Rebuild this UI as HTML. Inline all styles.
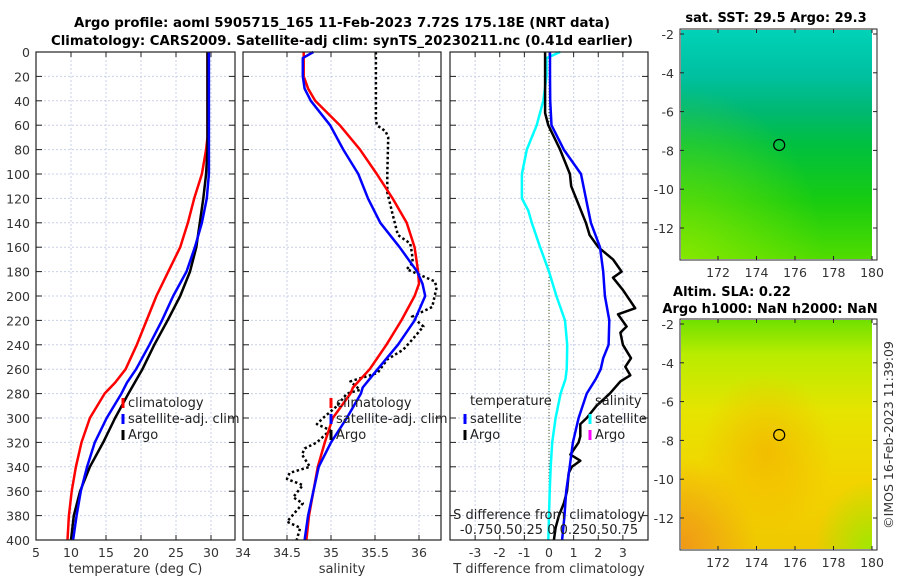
<!DOCTYPE html>
<html><head><meta charset="utf-8">
<style>
html,body{margin:0;padding:0;background:#fff;}
svg{display:block;font-family:"DejaVu Sans","Liberation Sans",sans-serif;}
.t{font-size:12.5px;fill:#333;}
.b{font-size:13px;font-weight:bold;fill:#000;}
</style></head>
<body>
<svg id="c" width="900" height="580" viewBox="0 0 900 580">
<defs>
<linearGradient id="sst" x1="0" y1="0" x2="0" y2="1">
<stop offset="0" stop-color="#00d2b8"/><stop offset="0.2" stop-color="#00c0a0"/>
<stop offset="0.36" stop-color="#00b870"/><stop offset="0.5" stop-color="#00c040"/>
<stop offset="0.75" stop-color="#18cc10"/><stop offset="1" stop-color="#50dc00"/>
</linearGradient>
<radialGradient id="sstside" cx="0" cy="1" r="0.75">
<stop offset="0" stop-color="#a8f000" stop-opacity="0.6"/><stop offset="1" stop-color="#a8f000" stop-opacity="0"/>
</radialGradient>
<linearGradient id="sla" x1="0" y1="0" x2="0" y2="1">
<stop offset="0" stop-color="#70e000"/><stop offset="0.15" stop-color="#b8ec00"/>
<stop offset="0.4" stop-color="#e6e400"/><stop offset="0.7" stop-color="#f2d400"/><stop offset="1" stop-color="#f0c800"/>
</linearGradient>
<radialGradient id="slaspot" cx="0.45" cy="0.58" r="0.35">
<stop offset="0" stop-color="#f4b000" stop-opacity="0.7"/><stop offset="1" stop-color="#f4b000" stop-opacity="0"/>
</radialGradient>
<radialGradient id="slacorner" cx="0" cy="1" r="0.4">
<stop offset="0" stop-color="#f09818"/><stop offset="1" stop-color="#f09818" stop-opacity="0"/>
</radialGradient>
<radialGradient id="slagreen" cx="1" cy="1" r="0.3">
<stop offset="0" stop-color="#a0e800"/><stop offset="1" stop-color="#a0e800" stop-opacity="0"/>
</radialGradient>
</defs>
<text class="b" x="342" y="27" text-anchor="middle" textLength="536" lengthAdjust="spacingAndGlyphs">Argo profile: aoml 5905715_165 11-Feb-2023 7.72S 175.18E (NRT data)</text>
<text class="b" x="342" y="45" text-anchor="middle" textLength="582" lengthAdjust="spacingAndGlyphs">Climatology: CARS2009. Satellite-adj clim: synTS_20230211.nc (0.41d earlier)</text>
<g id="panels"></g>
<g id="maps"></g>
<text class="t" transform="translate(893,435) rotate(-90)" text-anchor="middle">©IMOS 16-Feb-2023 11:39:09</text>
</svg>
<script>
const tDepth = [0,20,40,60,70,80,100,120,140,160,180,200,220,240,260,271,280,300,320,340,360,380,400];
const tClim  = [29.5,29.5,29.5,29.5,29.5,29.3,28.7,27.6,26.7,25.6,23.9,22.2,20.8,19.4,17.8,16.3,14.8,12.7,11.5,10.7,10.1,9.7,9.5];
const tSat   = [29.7,29.7,29.7,29.7,29.7,29.7,29.7,29.4,28.7,27.7,26.5,24.6,23.0,21.2,19.3,18.0,17.2,15.1,13.4,12.3,11.4,10.8,10.3];
const tArgo  = [29.5,29.5,29.5,29.5,29.5,29.5,29.3,28.9,28.4,27.9,27.0,25.6,23.8,21.9,20.2,19.1,18.2,16.3,14.6,12.7,11.3,10.4,10.0];

const sDepth = [0,5,20,30,40,60,80,100,120,140,160,180,190,200,220,240,260,275,280,300,320,340,360,380,400];
const sClim  = [34.69,34.69,34.69,34.74,34.82,35.10,35.33,35.52,35.70,35.86,35.95,35.99,36.0,35.95,35.80,35.63,35.44,35.25,35.22,35.02,34.93,34.85,34.80,34.75,34.72];
const sSat   = [34.80,34.68,34.68,34.70,34.77,34.99,35.14,35.31,35.42,35.56,35.78,35.98,36.04,36.07,35.95,35.76,35.53,35.36,35.34,35.18,35.00,34.86,34.80,34.74,34.70];
const sArgoDepth = [0,55,60,65,70,100,115,133,150,157,165,173,178,188,193,209,217,225,236,244,252,263,270,277,280,290,300,305,310,320,325,330,340,345,350,355,365,370,385,390,400];
const sArgo      = [35.51,35.51,35.52,35.62,35.65,35.64,35.64,35.70,35.76,35.90,35.92,35.93,35.86,36.18,36.20,36.15,35.92,36.05,35.92,35.82,35.64,35.53,35.22,35.33,35.18,35.07,34.91,34.84,34.99,34.84,34.70,34.67,34.76,34.53,34.50,34.68,34.57,34.68,34.50,34.65,34.61];

const dDepth   = [0,5,20,40,60,80,100,120,130,140,160,180,200,220,240,251,260,268,280,300,320,340,360,380,400];
const dTsat    = [0.04,0.04,0.04,0.05,0.1,0.6,1.3,1.5,1.6,1.7,2.07,2.2,2.27,2.45,2.42,2.2,2.1,1.9,1.53,1.2,0.97,0.84,0.7,0.63,0.53];
const dSsatT   = [0.45,-0.1,-0.1,-0.23,-0.5,-0.9,-1.1,-1.1,-0.84,-0.7,-0.36,0.0,0.3,0.65,0.74,0.73,0.72,0.67,0.47,0.27,0.13,0.07,0.03,0.0,-0.03];
const dTArgoDepth = [0,50,60,80,100,110,120,140,150,160,170,180,185,195,210,215,225,230,240,251,258,265,270,280,290,300,305,315,320,330,335,340,345,350,360,370,380,390,400];
const dTArgo      = [-0.16,-0.16,-0.03,0.45,0.85,0.9,1.1,1.5,1.65,2.0,2.6,2.95,2.6,3.0,3.5,2.8,3.15,2.9,3.0,3.33,3.1,3.3,2.9,2.47,1.93,1.53,1.27,1.27,1.2,0.87,1.27,0.93,0.8,0.78,0.73,0.6,0.4,0.27,0.2];

const yTicks = [0,20,40,60,80,100,120,140,160,180,200,220,240,260,280,300,320,340,360,380,400];
const p1Ticks = [5,10,15,20,25,30];
const p2Ticks = [34,34.5,35,35.5,36];
const p3Ticks = [-3,-2,-1,0,1,2,3];
const lonTicks = [172,174,176,178,180];
const latTicks = [-2,-4,-6,-8,-10,-12];
const argoLon = 175.18, argoLat = -7.72;

const NS='http://www.w3.org/2000/svg';
function mk(tag, attrs, parent){const e=document.createElementNS(NS,tag);for(const k in attrs)e.setAttribute(k,attrs[k]);if(parent)parent.appendChild(e);return e;}
const yTop=52, yBot=540;
const yS = d => yTop + (d/400)*(yBot-yTop);
const P = document.getElementById('panels');

function panel(name, x0, x1, vmin, vmax, ticks, label){
  const g = mk('g',{},P);
  
  
  const xs = v => x0 + (v-vmin)/(vmax-vmin)*(x1-x0);
  ticks.forEach(t=>{
    const gl = mk('line',{x1:xs(t),x2:xs(t),y1:yTop,y2:yBot,stroke:'#c8d0e8','stroke-width':1,'stroke-dasharray':'2,2'},g);
    
    
    const tl = mk('text',{x:xs(t),y:yBot+17,'text-anchor':'middle',class:'t'},g);
    tl.textContent=String(t);
    
    
    mk('line',{x1:xs(t),x2:xs(t),y1:yBot,y2:yBot-5,stroke:'#222'},g);
    mk('line',{x1:xs(t),x2:xs(t),y1:yTop,y2:yTop+5,stroke:'#222'},g);
  });
  yTicks.forEach(d=>{
    mk('line',{x1:x0,x2:x1,y1:yS(d),y2:yS(d),stroke:'#c8d0e8','stroke-width':1,'stroke-dasharray':'2,2'},g);
    mk('line',{x1:x0,x2:x0+6,y1:yS(d),y2:yS(d),stroke:'#222'},g);
    mk('line',{x1:x1,x2:x1-6,y1:yS(d),y2:yS(d),stroke:'#222'},g);
  });
  const xl = mk('text',{x:(x0+x1)/2,y:yBot+33,'text-anchor':'middle',class:'t',style:'font-size:13px'},g);
  xl.textContent=label;
  
  
  return {g, xs};
}
function line(p, name, depths, vals, color, w, dash){
  const pts = depths.map((d,i)=>p.xs(vals[i]).toFixed(1)+','+yS(d).toFixed(1)).join(' ');
  const a = {points:pts,fill:'none',stroke:color,'stroke-width':w,'stroke-linejoin':'round'};
  if(dash) a['stroke-dasharray']=dash;
  const e = mk('polyline',a,p.g);
  
  
}
function frame(p,x0,x1){
  const r = mk('rect',{x:x0,y:yTop,width:x1-x0,height:yBot-yTop,fill:'none',stroke:'#222','stroke-width':1.2},p.g);
  
  
}
function legendItem(g, x, y, color, text, name){
  mk('rect',{x:x-1.5,y:y-8,width:3,height:10,fill:color},g);
  const t = mk('text',{x:x+5,y:y+1,class:'t',style:'font-size:13px;fill:#222'},g);
  t.textContent=text;
  
  
}

yTicks.forEach(d=>{
  const t = mk('text',{x:30,y:yS(d)+5,'text-anchor':'end',class:'t'},P);
  t.textContent=String(d);
  
  
});

const p1 = panel('temperature-panel',36,235,5,33.43,p1Ticks,'temperature (deg C)');
line(p1,'temp-climatology-line',tDepth,tClim,'#ff0000',2.5);
line(p1,'temp-argo-line',tDepth,tArgo,'#000',2.5);
line(p1,'temp-satellite-line',tDepth,tSat,'#0000ff',2.5);
frame(p1,36,235);
const lg1 = mk('g',{},p1.g);


legendItem(lg1,123,406,'#ff0000','climatology','legend-climatology');
legendItem(lg1,123,422,'#0000ff','satellite-adj. clim','legend-satellite-adj');
legendItem(lg1,123,438,'#000','Argo','legend-argo');

const p2 = panel('salinity-panel',243,441,34,36.25,p2Ticks,'salinity');
line(p2,'sal-argo-line',sArgoDepth,sArgo,'#000',2.5,'2.5,2.5');
line(p2,'sal-climatology-line',sDepth,sClim,'#ff0000',2.5);
line(p2,'sal-satellite-line',sDepth,sSat,'#0000ff',2.5);
frame(p2,243,441);
const lg2 = mk('g',{},p2.g);


legendItem(lg2,331,406,'#ff0000','climatology','legend-climatology');
legendItem(lg2,331,422,'#0000ff','satellite-adj. clim','legend-satellite-adj');
legendItem(lg2,331,438,'#000','Argo','legend-argo');

const p3 = panel('difference-panel',450,648,-4.02,4.02,p3Ticks,'T difference from climatology');
mk('line',{x1:p3.xs(0),x2:p3.xs(0),y1:yTop,y2:yBot,stroke:'#445522','stroke-width':1,'stroke-dasharray':'1,2'},p3.g);
line(p3,'sal-diff-satellite-line',dDepth,dSsatT,'#00ffff',2.5);
line(p3,'temp-diff-argo-line',dTArgoDepth,dTArgo,'#000',2.5);
line(p3,'temp-diff-satellite-line',dDepth,dTsat,'#0000ff',2.5);
frame(p3,450,648);
const lg3 = mk('g',{},p3.g);


const tt = mk('text',{x:470,y:405,class:'t',style:'font-size:13px;fill:#222'},lg3); tt.textContent='temperature';
const st = mk('text',{x:595,y:405,class:'t',style:'font-size:13px;fill:#222'},lg3); st.textContent='salinity';
legendItem(lg3,465,422,'#0000ff','satellite','legend-temp-satellite');
legendItem(lg3,465,438,'#000','Argo','legend-temp-argo');
legendItem(lg3,590,422,'#00ffff','satellite','legend-sal-satellite');
legendItem(lg3,590,438,'#ff00ff','Argo','legend-sal-argo');
const sd = mk('text',{x:549,y:519,'text-anchor':'middle',class:'t',style:'font-size:13px;fill:#222'},p3.g);
sd.textContent='S difference from climatology';


const sn = mk('text',{x:549,y:534,'text-anchor':'middle',class:'t',style:'font-size:13px;fill:#222'},p3.g);
sn.textContent='-0.750.50.25 0 0.250.50.75';



const M = document.getElementById('maps');
function map(name, y0, y1, fills){
  const g = mk('g',{},M);
  
  
  const x0=680, x1=877;
  const lx = v => 718 + (v-172)*(872-718)/8;
  const ly = v => (y0+5) + (-2 - v)*((y0+199)-(y0+5))/10;
  fills.forEach(f=> mk('rect',{x:681,y:y0+1,width:191,height:y1-y0-2,fill:f},g));
  mk('rect',{x:x0,y:y0,width:x1-x0,height:y1-y0,fill:'none',stroke:'#222','stroke-width':1},g);
  lonTicks.forEach(v=>{
    mk('line',{x1:lx(v),x2:lx(v),y1:y1,y2:y1-4,stroke:'#222'},g);
    mk('line',{x1:lx(v),x2:lx(v),y1:y0,y2:y0+4,stroke:'#222'},g);
    const t = mk('text',{x:lx(v),y:y1+17,'text-anchor':'middle',class:'t'},g);
    t.textContent=String(v);
    
    
  });
  latTicks.forEach(v=>{
    mk('line',{x1:x0,x2:x0+4,y1:ly(v),y2:ly(v),stroke:'#222'},g);
    mk('line',{x1:x1,x2:x1-4,y1:ly(v),y2:ly(v),stroke:'#222'},g);
    const t = mk('text',{x:674,y:ly(v)+5,'text-anchor':'end',class:'t'},g);
    t.textContent=String(v);
    
    
  });
  const c = mk('circle',{cx:lx(argoLon),cy:ly(argoLat),r:5.5,fill:'none',stroke:'#000','stroke-width':1.2},g);
  
  
  return g;
}
map('sst-map',29,260,['url(#sst)','url(#sstside)']);
map('sla-map',319,550,['url(#sla)','url(#slaspot)','url(#slacorner)','url(#slagreen)']);
const mt1 = mk('text',{x:776,y:22,'text-anchor':'middle',class:'b'},M); mt1.textContent='sat. SST: 29.5 Argo: 29.3';
 
const mt2 = mk('text',{x:732,y:296,'text-anchor':'middle',class:'b'},M); mt2.textContent='Altim. SLA: 0.22';
 
const mt3 = mk('text',{x:770,y:313,'text-anchor':'middle',class:'b'},M); mt3.textContent='Argo h1000: NaN h2000: NaN';
 
</script>
</body></html>
